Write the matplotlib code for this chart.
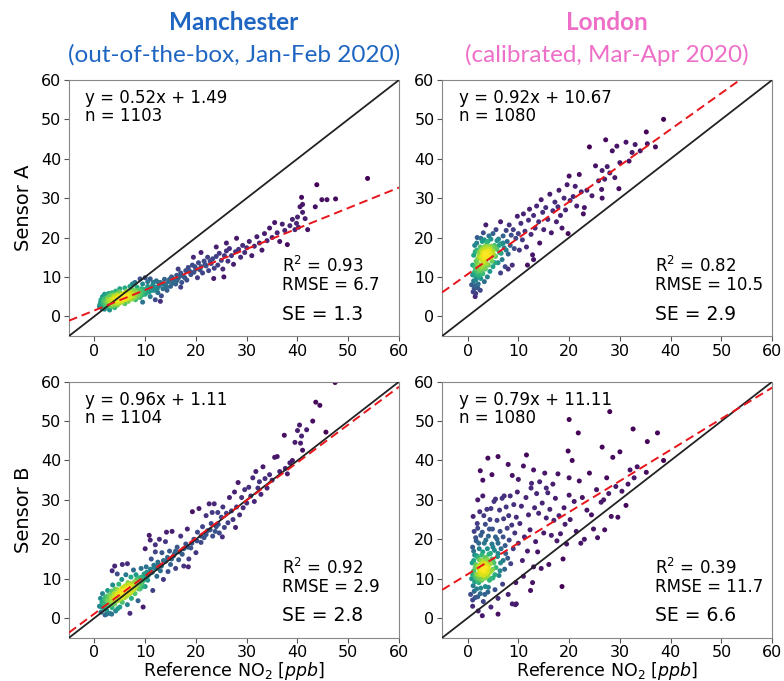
import matplotlib

matplotlib.use("Agg")

import matplotlib.pyplot as plt
import numpy as np


TITLES = [
    ("Manchester", "(out-of-the-box, Jan-Feb 2020)", "#1f66c2"),
    ("London", "(calibrated, Mar-Apr 2020)", "#ee6fc8"),
]
SENSORS = ["Sensor A", "Sensor B"]

# fit slope, intercept, n, R2, RMSE, SE for each panel (row = sensor, col = site)
FIT_SLOPE = [[0.52, 0.92], [0.96, 0.79]]
FIT_INTERCEPT = [[1.49, 10.67], [1.11, 11.11]]
N_POINTS = [[1103, 1080], [1104, 1080]]
R2 = [[0.93, 0.82], [0.92, 0.39]]
RMSE = [[6.7, 10.5], [2.9, 11.7]]
SE = [[1.3, 2.9], [2.8, 6.6]]

# (reference, sensor) pairs in ppb
MAN_A = [
    (1.0, 2.5), (1.2, 3.5), (1.3, 4.2), (1.5, 2.0), (1.5, 3.0), (1.6, 5.0), (1.8, 2.6), (1.9, 3.8),
    (2.0, 1.8), (2.0, 4.5), (2.2, 3.0), (2.3, 5.5), (2.4, 2.2), (2.5, 3.6), (2.6, 4.8), (2.8, 2.8),
    (2.9, 4.1), (3.0, 1.6), (3.0, 5.2), (3.2, 3.3), (3.3, 2.4), (3.4, 4.4), (3.5, 6.0), (3.6, 3.0),
    (3.8, 3.9), (3.9, 5.0), (4.0, 2.2), (4.1, 4.6), (4.2, 3.4), (4.4, 5.6), (4.5, 2.8), (4.6, 4.0),
    (4.8, 4.9), (4.9, 3.3), (5.0, 6.2), (5.2, 4.2), (5.3, 5.3), (5.5, 3.6), (5.6, 4.8), (5.8, 5.8),
    (5.9, 4.4), (6.0, 3.2), (6.1, 5.1), (6.3, 6.4), (6.4, 4.6), (6.6, 5.5), (6.7, 3.8), (6.9, 4.9),
    (7.0, 6.0), (7.2, 5.2), (7.3, 7.0), (7.5, 4.4), (7.6, 5.7), (7.8, 6.5), (8.0, 5.0), (8.1, 4.2),
    (8.3, 6.0), (8.4, 7.4), (8.6, 5.4), (8.8, 6.6), (9.0, 4.8), (9.1, 5.8), (9.3, 7.0), (9.5, 8.2),
    (9.6, 6.2), (8.0, 8.6), (9.0, 9.5), (10.0, 9.8), (10.5, 8.8), (7.5, 8.2), (11.0, 9.5),
    (10.0, 5.6), (10.2, 6.8), (10.5, 7.6), (10.8, 6.2), (11.0, 5.0), (11.2, 7.2), (11.5, 8.0),
    (11.8, 6.6), (12.0, 7.4), (12.2, 9.0), (12.5, 6.0), (12.8, 7.8), (13.0, 8.6), (13.2, 5.2),
    (13.5, 7.0), (13.8, 9.4), (14.0, 8.0), (14.3, 6.6), (14.6, 8.8), (15.0, 7.6), (15.2, 10.0),
    (13.0, 3.8), (12.0, 4.2), (9.5, 3.6), (15.5, 9.0), (16.0, 8.2), (16.2, 10.4), (16.5, 9.6),
    (17.0, 11.0), (17.2, 8.6), (17.5, 10.2), (18.0, 11.6), (18.2, 9.2), (18.5, 12.4), (19.0, 10.6),
    (19.3, 13.0), (19.6, 11.2), (20.0, 12.0), (20.3, 9.8), (20.5, 13.6), (21.0, 12.6), (21.3, 11.0),
    (21.6, 14.0), (22.0, 12.8), (22.3, 15.0), (22.5, 11.6), (17.0, 7.4), (19.5, 15.0), (16.5, 12.0),
    (23.0, 13.4), (23.3, 14.6), (23.6, 12.2), (24.0, 15.2), (24.3, 13.0), (24.6, 16.0), (25.0, 14.2),
    (25.3, 12.0), (25.6, 15.4), (26.0, 16.6), (26.3, 14.0), (26.6, 17.2), (27.0, 15.4), (27.4, 13.2),
    (27.8, 16.4), (28.0, 19.8), (28.4, 17.0), (28.8, 15.0), (29.2, 18.0), (29.6, 16.2), (30.0, 17.4),
    (23.5, 9.6), (25.5, 10.0), (21.0, 16.2), (24.0, 17.6), (26.0, 18.6), (30.5, 19.0), (31.0, 15.4),
    (31.5, 17.8), (32.0, 20.2), (32.5, 18.6), (33.0, 16.8), (33.5, 21.0), (34.0, 19.2), (34.5, 22.4),
    (35.0, 20.0), (35.5, 23.8), (36.0, 21.2), (36.5, 19.0), (37.0, 23.4), (37.5, 21.8), (38.0, 18.2),
    (38.5, 23.0), (39.0, 24.6), (39.5, 22.0), (40.0, 25.2), (40.2, 22.6), (40.5, 27.8), (40.8, 30.2),
    (41.0, 26.4), (41.5, 24.8), (42.0, 22.0), (41.0, 28.4), (39.8, 23.6), (43.5, 27.8), (43.8, 33.4),
    (44.8, 29.6), (45.8, 29.6), (47.5, 29.8), (53.8, 35.0),
]
MAN_A_CORE = [
    (1.1, 3.0), (1.4, 2.6), (1.7, 3.4), (1.9, 2.2), (2.1, 3.9), (2.3, 2.7), (2.6, 3.2), (2.7, 4.3),
    (3.1, 2.8), (3.1, 3.8), (3.4, 3.5), (3.7, 2.6), (3.7, 4.4), (4.0, 3.8), (4.3, 4.2), (4.4, 3.0),
    (4.7, 3.6), (4.7, 5.2), (5.0, 4.4), (5.1, 3.8), (5.2, 5.0), (5.4, 4.5), (5.5, 5.6), (5.7, 4.2),
    (5.8, 5.1), (6.0, 4.8), (6.1, 5.8), (6.2, 4.3), (6.4, 5.3), (6.5, 6.0), (6.7, 4.7), (6.8, 5.6),
    (7.0, 5.0), (7.1, 4.4), (7.3, 5.5), (7.4, 6.2), (7.6, 5.0), (7.7, 4.6), (7.9, 5.9), (8.1, 5.5),
    (8.2, 6.5), (8.5, 4.8), (8.7, 6.0), (8.9, 5.2), (9.2, 6.4), (9.4, 5.4), (9.8, 6.8), (10.3, 6.0),
    (10.6, 7.0), (11.3, 6.6), (11.6, 7.6), (12.4, 7.0), (1.6, 4.2), (2.0, 5.6), (2.8, 5.8), (3.6, 5.4),
    (4.2, 6.4), (5.0, 7.0), (6.0, 7.2), (7.0, 7.6), (13.6, 8.2), (14.8, 9.4), (15.8, 8.8), (16.8, 10.2),
    (17.8, 9.8), (18.8, 11.4), (11.6, 8.6), (12.6, 8.6), (14.2, 7.4), (15.4, 8.4), (16.2, 9.0),
    (19.8, 12.6), (20.8, 11.8), (21.8, 13.2), (22.8, 14.0),
]

LON_A = [
    (0.8, 8.0), (1.0, 10.5), (1.0, 13.0), (1.2, 15.5), (1.3, 7.0), (1.4, 18.0), (1.5, 11.5), (1.5, 5.0),
    (1.6, 9.2), (1.7, 14.0), (1.8, 12.2), (1.8, 16.8), (1.9, 20.0), (2.0, 10.6), (2.1, 8.2), (2.2, 13.2),
    (2.3, 15.2), (2.4, 11.8), (2.5, 17.6), (2.5, 6.6), (2.6, 9.6), (2.7, 14.4), (2.8, 12.6), (2.9, 19.0),
    (3.0, 16.2), (3.0, 10.8), (3.1, 21.2), (3.2, 13.8), (3.3, 8.8), (3.4, 15.6), (3.5, 17.8), (3.5, 12.0),
    (3.6, 23.2), (3.7, 14.6), (3.8, 18.8), (3.9, 10.0), (4.0, 16.6), (4.1, 13.0), (4.2, 20.4), (4.3, 15.0),
    (4.4, 11.4), (4.5, 17.4), (4.6, 19.6), (4.8, 14.0), (4.9, 16.0), (5.0, 21.0), (5.0, 12.6),
    (5.3, 18.0), (5.5, 15.2), (5.6, 22.0), (5.8, 17.0), (6.0, 13.6), (6.1, 19.6), (6.3, 16.2), (6.5, 24.0),
    (6.6, 18.4), (6.8, 14.4), (7.0, 20.4), (7.2, 17.4), (7.4, 12.6), (7.6, 21.8), (7.8, 19.0), (8.0, 15.8),
    (8.2, 23.2), (8.4, 18.0), (8.6, 20.6), (8.8, 13.0), (9.0, 22.0), (9.2, 17.2), (9.5, 19.8), (9.8, 25.4),
    (10.0, 21.0), (10.2, 16.8), (6.5, 11.0), (8.0, 12.0), (10.5, 23.6), (10.8, 19.4), (11.0, 26.0),
    (11.3, 21.6), (11.6, 17.6), (12.0, 24.4), (12.2, 27.2), (12.5, 20.8), (12.8, 15.6), (13.0, 25.6),
    (13.3, 22.4), (13.6, 28.0), (14.0, 24.0), (14.2, 18.6), (14.5, 29.6), (14.8, 26.4), (15.0, 22.0),
    (15.4, 27.6), (15.8, 24.6), (16.2, 31.0), (16.5, 21.2), (16.8, 26.8), (17.2, 29.0), (17.5, 24.0),
    (17.8, 27.8), (18.0, 32.0), (18.3, 25.6), (18.6, 22.4), (19.0, 30.0), (19.3, 27.0), (19.6, 33.4),
    (19.8, 21.0), (20.0, 35.6), (20.2, 29.4), (13.0, 14.4), (11.8, 13.0), (20.8, 30.4), (21.2, 33.0),
    (21.5, 28.0), (22.0, 36.0), (22.4, 31.6), (23.0, 27.6), (23.5, 32.0), (24.0, 43.0), (24.5, 30.6),
    (25.2, 38.2), (25.8, 34.4), (26.4, 32.2), (26.5, 37.0), (27.0, 34.8), (27.2, 44.8), (27.5, 38.0),
    (28.0, 36.4), (28.5, 42.0), (29.0, 35.2), (29.4, 43.2), (29.8, 32.4), (30.0, 39.0), (31.2, 44.2),
    (31.8, 39.4), (32.4, 41.6), (33.0, 43.6), (34.0, 42.0), (35.2, 46.8), (35.4, 43.8), (37.0, 43.0),
    (38.6, 50.0), (26.5, 30.0), (22.8, 26.0),
]
LON_A_CORE = [
    (1.2, 9.0), (1.3, 11.0), (1.4, 12.6), (1.6, 10.2), (1.7, 11.8), (1.8, 13.4), (1.9, 10.8), (2.0, 12.4),
    (2.1, 11.4), (2.2, 10.0), (2.3, 12.0), (2.4, 13.0), (2.5, 10.6), (2.6, 11.6), (2.7, 12.4), (2.9, 11.0),
    (2.0, 14.6), (2.2, 15.8), (2.4, 16.4), (2.6, 15.0), (2.8, 16.8), (2.9, 15.4), (3.0, 17.4), (3.1, 14.8),
    (3.2, 16.0), (3.3, 17.0), (3.4, 15.0), (3.5, 16.4), (3.6, 15.8), (3.7, 17.4), (3.8, 16.0), (3.9, 15.2),
    (4.0, 17.8), (4.1, 16.4), (4.2, 15.4), (4.3, 17.0), (4.5, 16.0), (4.6, 14.8), (4.7, 17.8), (5.0, 16.6),
    (5.2, 15.6), (5.4, 17.4), (3.0, 13.0), (3.4, 12.4), (3.8, 13.4), (1.5, 7.8), (2.0, 7.2), (1.1, 6.2),
    (1.6, 5.8), (5.8, 19.2), (6.2, 18.0), (6.6, 16.0), (7.0, 18.6), (7.6, 16.8), (1.5, 16.4), (1.8, 18.6),
    (2.6, 19.8), (3.3, 19.4), (4.0, 19.0), (5.4, 13.6),
]

MAN_B = [
    (1.0, 3.0), (1.2, 5.0), (1.3, 1.5), (1.5, 4.0), (1.6, 6.2), (1.8, 2.6), (2.0, 3.6), (2.1, 0.8),
    (2.2, 5.4), (2.4, 2.0), (2.5, 4.6), (2.6, 7.0), (2.8, 3.2), (3.0, 5.8), (3.0, 1.2), (3.2, 4.2),
    (3.4, 6.8), (3.5, 2.6), (3.6, 8.4), (3.8, 5.0), (4.0, 3.6), (4.1, 7.4), (4.2, 1.8), (4.4, 6.0),
    (4.6, 4.4), (4.8, 8.6), (5.0, 5.4), (5.0, 2.8), (5.2, 7.0), (5.4, 9.8), (5.5, 4.0), (5.7, 6.2),
    (5.9, 8.0), (6.0, 5.2), (6.2, 11.0), (6.3, 7.4), (6.5, 3.4), (6.6, 9.0), (6.8, 6.4), (7.0, 8.2),
    (7.2, 10.4), (7.3, 5.0), (7.5, 7.6), (7.7, 12.2), (7.9, 9.2), (8.0, 6.2), (8.2, 11.0), (8.4, 8.4),
    (8.6, 4.4), (8.8, 10.2), (9.0, 7.4), (9.2, 12.6), (9.4, 9.0), (9.6, 2.8), (9.8, 11.2), (10.0, 8.0),
    (3.5, 12.0), (4.0, 13.2), (5.5, 13.6), (6.5, 13.8), (4.5, 11.2), (7.0, 1.2), (10.2, 13.0),
    (10.5, 9.6), (10.8, 21.0), (11.0, 11.4), (11.2, 15.0), (11.5, 7.0), (11.8, 12.8), (12.0, 18.6),
    (12.3, 10.6), (12.5, 14.2), (12.8, 20.0), (13.0, 12.0), (13.3, 16.6), (13.6, 9.8), (14.0, 14.4),
    (14.2, 21.8), (14.5, 11.8), (14.8, 17.0), (15.0, 13.6), (15.3, 22.0), (15.6, 15.8), (16.0, 12.6),
    (16.3, 18.0), (16.6, 14.8), (17.0, 20.8), (17.3, 16.2), (17.6, 13.2), (18.0, 18.8), (18.3, 22.6),
    (18.6, 15.0), (19.0, 17.8), (19.3, 27.0), (19.6, 20.0), (20.0, 16.6), (16.0, 17.0), (14.0, 19.4),
    (12.0, 16.8), (10.0, 17.6), (11.0, 19.8), (18.5, 13.0), (20.3, 21.8), (20.6, 27.8), (21.0, 19.2),
    (21.3, 23.2), (21.6, 20.4), (22.0, 26.0), (22.3, 22.2), (22.6, 29.0), (23.0, 24.0), (23.3, 20.8),
    (23.6, 29.0), (24.0, 23.2), (24.3, 26.8), (24.6, 21.6), (25.0, 25.6), (25.3, 28.2), (25.6, 23.0),
    (26.0, 26.6), (26.3, 24.2), (26.6, 30.6), (27.0, 27.2), (27.3, 25.0), (27.6, 32.0), (28.0, 28.2),
    (28.3, 34.4), (28.6, 26.2), (29.0, 30.6), (29.3, 28.0), (29.6, 32.6), (30.0, 29.2), (27.8, 23.0),
    (25.2, 20.6), (23.2, 26.8), (30.4, 33.2), (30.8, 31.0), (31.2, 35.6), (31.5, 29.6), (31.8, 37.2),
    (32.2, 33.0), (32.5, 34.6), (32.8, 31.4), (33.2, 38.4), (33.6, 35.4), (34.0, 33.0), (34.5, 36.4),
    (35.0, 35.0), (35.5, 40.8), (36.0, 41.0), (36.5, 37.2), (37.4, 46.4), (37.6, 38.0), (38.0, 36.6),
    (38.5, 39.4), (39.0, 40.0), (39.5, 44.6), (40.0, 47.6), (40.4, 49.0), (40.6, 44.4), (40.8, 46.2),
    (41.0, 42.6), (41.8, 47.8), (43.0, 50.0), (43.6, 54.8), (44.4, 54.0), (45.6, 47.2), (47.4, 59.8),
]
MAN_B_CORE = [
    (1.4, 2.8), (1.7, 3.6), (2.0, 4.8), (2.3, 3.0), (2.6, 5.6), (2.9, 4.2), (3.2, 3.4), (3.3, 5.2),
    (3.6, 4.4), (3.9, 6.2), (4.0, 5.2), (4.3, 4.6), (4.5, 7.2), (4.7, 5.6), (4.9, 6.6), (5.1, 4.8),
    (5.3, 6.0), (5.4, 7.6), (5.6, 5.4), (5.8, 7.0), (6.0, 6.2), (6.1, 8.2), (6.2, 6.8), (6.4, 5.6),
    (6.5, 7.6), (6.7, 8.6), (6.8, 7.0), (7.0, 6.2), (7.1, 7.6), (7.3, 8.8), (7.4, 6.8), (7.6, 8.0),
    (7.8, 7.2), (8.0, 9.0), (8.1, 7.8), (8.3, 9.8), (8.5, 8.6), (8.7, 7.4), (8.9, 9.4), (9.1, 8.6),
    (9.3, 10.4), (9.5, 8.0), (9.7, 9.6), (10.0, 10.6), (10.3, 11.6), (10.6, 10.8), (11.0, 12.4),
    (11.4, 11.6), (11.7, 13.4), (12.2, 12.6), (12.6, 13.6), (13.2, 13.2), (13.6, 14.6), (14.4, 15.4),
    (15.2, 15.0), (15.8, 16.4), (16.8, 16.8), (17.6, 17.6), (18.4, 18.0), (19.2, 19.0), (20.2, 19.6),
    (21.0, 20.8), (22.0, 21.2), (22.8, 22.4), (23.8, 22.0), (24.4, 23.8), (4.6, 2.4), (3.4, 1.0),
    (2.4, 1.0),
]

LON_B = [
    (0.6, 6.0), (0.8, 10.0), (0.9, 14.0), (1.0, 18.0), (1.0, 3.0), (1.1, 8.2), (1.2, 12.0), (1.3, 22.0),
    (1.4, 16.0), (1.5, 5.2), (1.5, 10.4), (1.6, 13.6), (1.7, 19.6), (1.8, 7.4), (1.9, 24.0), (2.0, 11.2),
    (2.0, 15.4), (2.1, 1.8), (2.2, 9.0), (2.3, 13.0), (2.3, 17.6), (2.4, 27.0), (2.5, 6.2), (2.5, 11.8),
    (2.6, 21.0), (2.7, 14.6), (2.8, 9.6), (2.9, 0.6), (3.0, 12.6), (3.0, 16.8), (3.0, 31.0), (3.1, 4.2),
    (3.2, 10.8), (3.3, 19.0), (3.4, 13.8), (3.5, 8.0), (3.5, 23.8), (3.6, 15.4), (3.7, 11.4), (3.8, 27.6),
    (3.9, 17.6), (4.0, 12.6), (4.0, 6.6), (4.1, 20.8), (4.2, 14.4), (4.3, 9.6), (4.4, 25.0), (4.5, 16.4),
    (4.6, 2.8), (4.7, 12.0), (4.8, 18.8), (4.9, 22.6), (5.0, 10.2), (5.0, 14.8), (5.2, 29.6), (5.3, 17.2),
    (5.4, 7.2), (5.5, 20.6), (5.6, 12.8), (5.8, 24.8), (5.9, 15.6), (6.0, 1.0), (6.0, 19.0), (6.2, 10.8),
    (6.3, 27.4), (6.4, 22.0), (6.5, 14.0), (6.6, 17.6), (6.8, 30.4), (6.9, 8.6), (7.0, 20.6), (7.1, 25.2),
    (7.3, 12.4), (7.4, 18.4), (7.6, 28.2), (7.8, 22.8), (7.9, 15.2), (8.0, 6.0), (8.1, 26.0), (8.2, 19.8),
    (8.4, 31.0), (8.5, 13.8), (8.7, 23.6), (8.8, 36.2), (9.0, 17.6), (9.1, 28.8), (9.3, 21.6), (9.4, 3.4),
    (9.6, 25.6), (9.8, 32.0), (10.0, 19.0), (10.0, 35.2), (4.8, 36.4), (4.0, 40.6), (6.0, 41.0),
    (2.5, 37.4), (2.0, 30.0), (3.0, 35.0), (8.0, 39.0), (9.5, 9.0), (8.8, 3.6), (9.6, 3.6), (5.5, 30.2),
    (7.2, 31.0), (6.0, 5.0), (10.3, 24.0), (10.6, 28.4), (10.8, 14.6), (11.0, 38.6), (11.2, 20.6),
    (11.5, 30.6), (11.6, 41.4), (11.8, 17.0), (12.0, 26.2), (12.3, 22.4), (12.6, 34.2), (12.8, 9.0),
    (13.0, 37.6), (13.2, 28.0), (13.4, 19.4), (13.6, 31.6), (13.8, 16.8), (14.0, 26.6), (14.2, 34.6),
    (14.5, 12.6), (14.7, 29.2), (15.0, 21.6), (15.2, 36.8), (15.5, 25.4), (15.8, 31.8), (16.0, 13.6),
    (16.2, 27.6), (16.5, 21.0), (16.8, 34.0), (17.0, 24.8), (17.3, 30.4), (17.6, 19.6), (17.8, 36.6),
    (18.0, 26.0), (18.3, 21.4), (18.6, 8.0), (18.8, 15.0), (19.0, 28.0), (19.2, 23.8), (19.5, 18.8),
    (19.8, 42.4), (20.0, 31.2), (20.0, 35.6), (20.2, 25.0), (12.5, 33.0), (15.5, 33.0), (13.0, 13.0),
    (12.4, 7.0), (11.0, 10.6), (20.6, 40.0), (21.0, 29.6), (21.4, 22.0), (21.8, 47.0), (22.0, 34.8),
    (22.3, 19.0), (22.6, 30.6), (23.0, 20.0), (23.5, 27.4), (24.0, 36.8), (24.4, 26.2), (24.8, 22.6),
    (25.4, 32.6), (25.6, 20.4), (26.3, 29.4), (26.5, 43.4), (26.8, 30.0), (27.0, 22.4), (27.4, 35.6),
    (27.8, 31.6), (28.0, 52.4), (28.3, 25.8), (28.6, 40.8), (29.2, 33.4), (29.6, 25.6), (30.0, 42.2),
    (30.4, 32.2), (31.2, 28.6), (31.6, 34.0), (32.0, 37.6), (32.6, 48.0), (32.8, 35.6), (33.4, 38.4),
    (35.2, 37.0), (35.4, 44.8), (37.4, 47.0), (38.6, 40.0), (20.0, 50.4),
]
LON_B_CORE = [
    (1.0, 11.0), (1.2, 14.6), (1.4, 9.2), (1.5, 12.8), (1.7, 11.0), (1.8, 15.8), (1.9, 9.6), (2.0, 13.2),
    (2.1, 10.2), (2.2, 12.4), (2.3, 14.8), (2.4, 11.0), (2.5, 13.6), (2.6, 9.8), (2.7, 12.0), (2.8, 16.0),
    (2.8, 11.2), (2.9, 13.8), (3.0, 10.0), (3.1, 14.4), (3.2, 12.0), (3.3, 11.0), (3.4, 15.4), (3.5, 12.8),
    (3.6, 10.2), (3.7, 13.6), (3.8, 11.8), (3.9, 14.8), (4.0, 10.8), (4.1, 13.0), (4.2, 16.2), (4.4, 11.6),
    (4.5, 13.8), (4.6, 10.0), (4.8, 15.0), (5.0, 12.4), (5.2, 14.0), (5.4, 11.0), (1.2, 17.0), (1.6, 20.4),
    (2.2, 19.0), (2.9, 21.8), (3.6, 19.8), (4.3, 22.6), (5.0, 18.0), (5.8, 20.0), (1.3, 6.8), (2.0, 5.4),
    (2.6, 7.6), (3.4, 6.0), (4.1, 7.8), (1.0, 4.6), (6.4, 12.0), (6.0, 16.4), (7.0, 14.6), (7.5, 16.4),
    (1.1, 25.8), (2.0, 22.8), (3.2, 26.0), (4.6, 27.8),
]

PANELS = [[MAN_A + MAN_A_CORE, LON_A + LON_A_CORE], [MAN_B + MAN_B_CORE, LON_B + LON_B_CORE]]
LIMS = (-5, 60)
TICKS = [0, 10, 20, 30, 40, 50, 60]


def point_density(pts: np.ndarray, bw: float = 1.9) -> np.ndarray:
    # plain gaussian kde, enough for colouring the scatter
    d = pts[:, None, :] - pts[None, :, :]
    d2 = (d ** 2).sum(axis=-1)
    return np.exp(-d2 / (2 * bw ** 2)).sum(axis=1)


def draw_panel(ax, pts, slope, intercept, n, r2, rmse, se):
    pts = np.asarray(pts, dtype=float)
    dens = point_density(pts)
    order = np.argsort(dens)
    ax.scatter(pts[order, 0], pts[order, 1], c=dens[order], cmap="viridis", s=13,
               linewidths=0, zorder=2)

    line_x = np.array(LIMS, dtype=float)
    ax.plot(line_x, line_x, color="#222222", lw=1.3, zorder=3)
    ax.plot(line_x, slope * line_x + intercept, color="#e8151b", lw=1.4,
            ls=(0, (4.5, 2.5)), zorder=4)

    ax.set_xlim(*LIMS)
    ax.set_ylim(*LIMS)
    ax.set_xticks(TICKS)
    ax.set_yticks(TICKS)
    ax.tick_params(labelsize=11.5, length=3.5, color="#555555", pad=2)
    for sp in ax.spines.values():
        sp.set_color("#888888")

    ax.text(0.05, 0.965, f"y = {slope:.2f}x + {intercept:.2f}\nn = {n}",
            transform=ax.transAxes, ha="left", va="top", fontsize=12, linespacing=1.0)
    ax.text(0.645, 0.165, f"R$^2$ = {r2:.2f}\nRMSE = {rmse:.1f}",
            transform=ax.transAxes, ha="left", va="bottom", fontsize=12, linespacing=1.0)
    ax.text(0.645, 0.085, f"SE = {se:.1f}",
            transform=ax.transAxes, ha="left", va="center", fontsize=13.5)


def main() -> None:
    fig = plt.figure(figsize=(7.84, 6.81), dpi=100)
    lefts = [0.088, 0.564]
    bottoms = [0.5066, 0.0635]
    w, h = 0.421, 0.376

    for r in range(2):
        for c in range(2):
            ax = fig.add_axes([lefts[c], bottoms[r], w, h])
            draw_panel(ax, PANELS[r][c], FIT_SLOPE[r][c], FIT_INTERCEPT[r][c],
                       N_POINTS[r][c], R2[r][c], RMSE[r][c], SE[r][c])
            if c == 0:
                ax.set_ylabel(SENSORS[r], fontsize=14, labelpad=6)
            if r == 1:
                ax.set_xlabel("Reference NO$_2$ [$ppb$]", fontsize=12.5, labelpad=0)

    for c, (site, sub, color) in enumerate(TITLES):
        cx = lefts[c] + w / 2
        fig.text(cx, 1 - 22 / 681, site, ha="center", va="center", fontsize=17.5,
                 fontweight="bold", color=color, family="Lato")
        fig.text(cx, 1 - 55 / 681, sub, ha="center", va="center", fontsize=17.5,
                 color=color, family="Lato")

    fig.savefig("out.png", dpi=100)


if __name__ == "__main__":
    main()
